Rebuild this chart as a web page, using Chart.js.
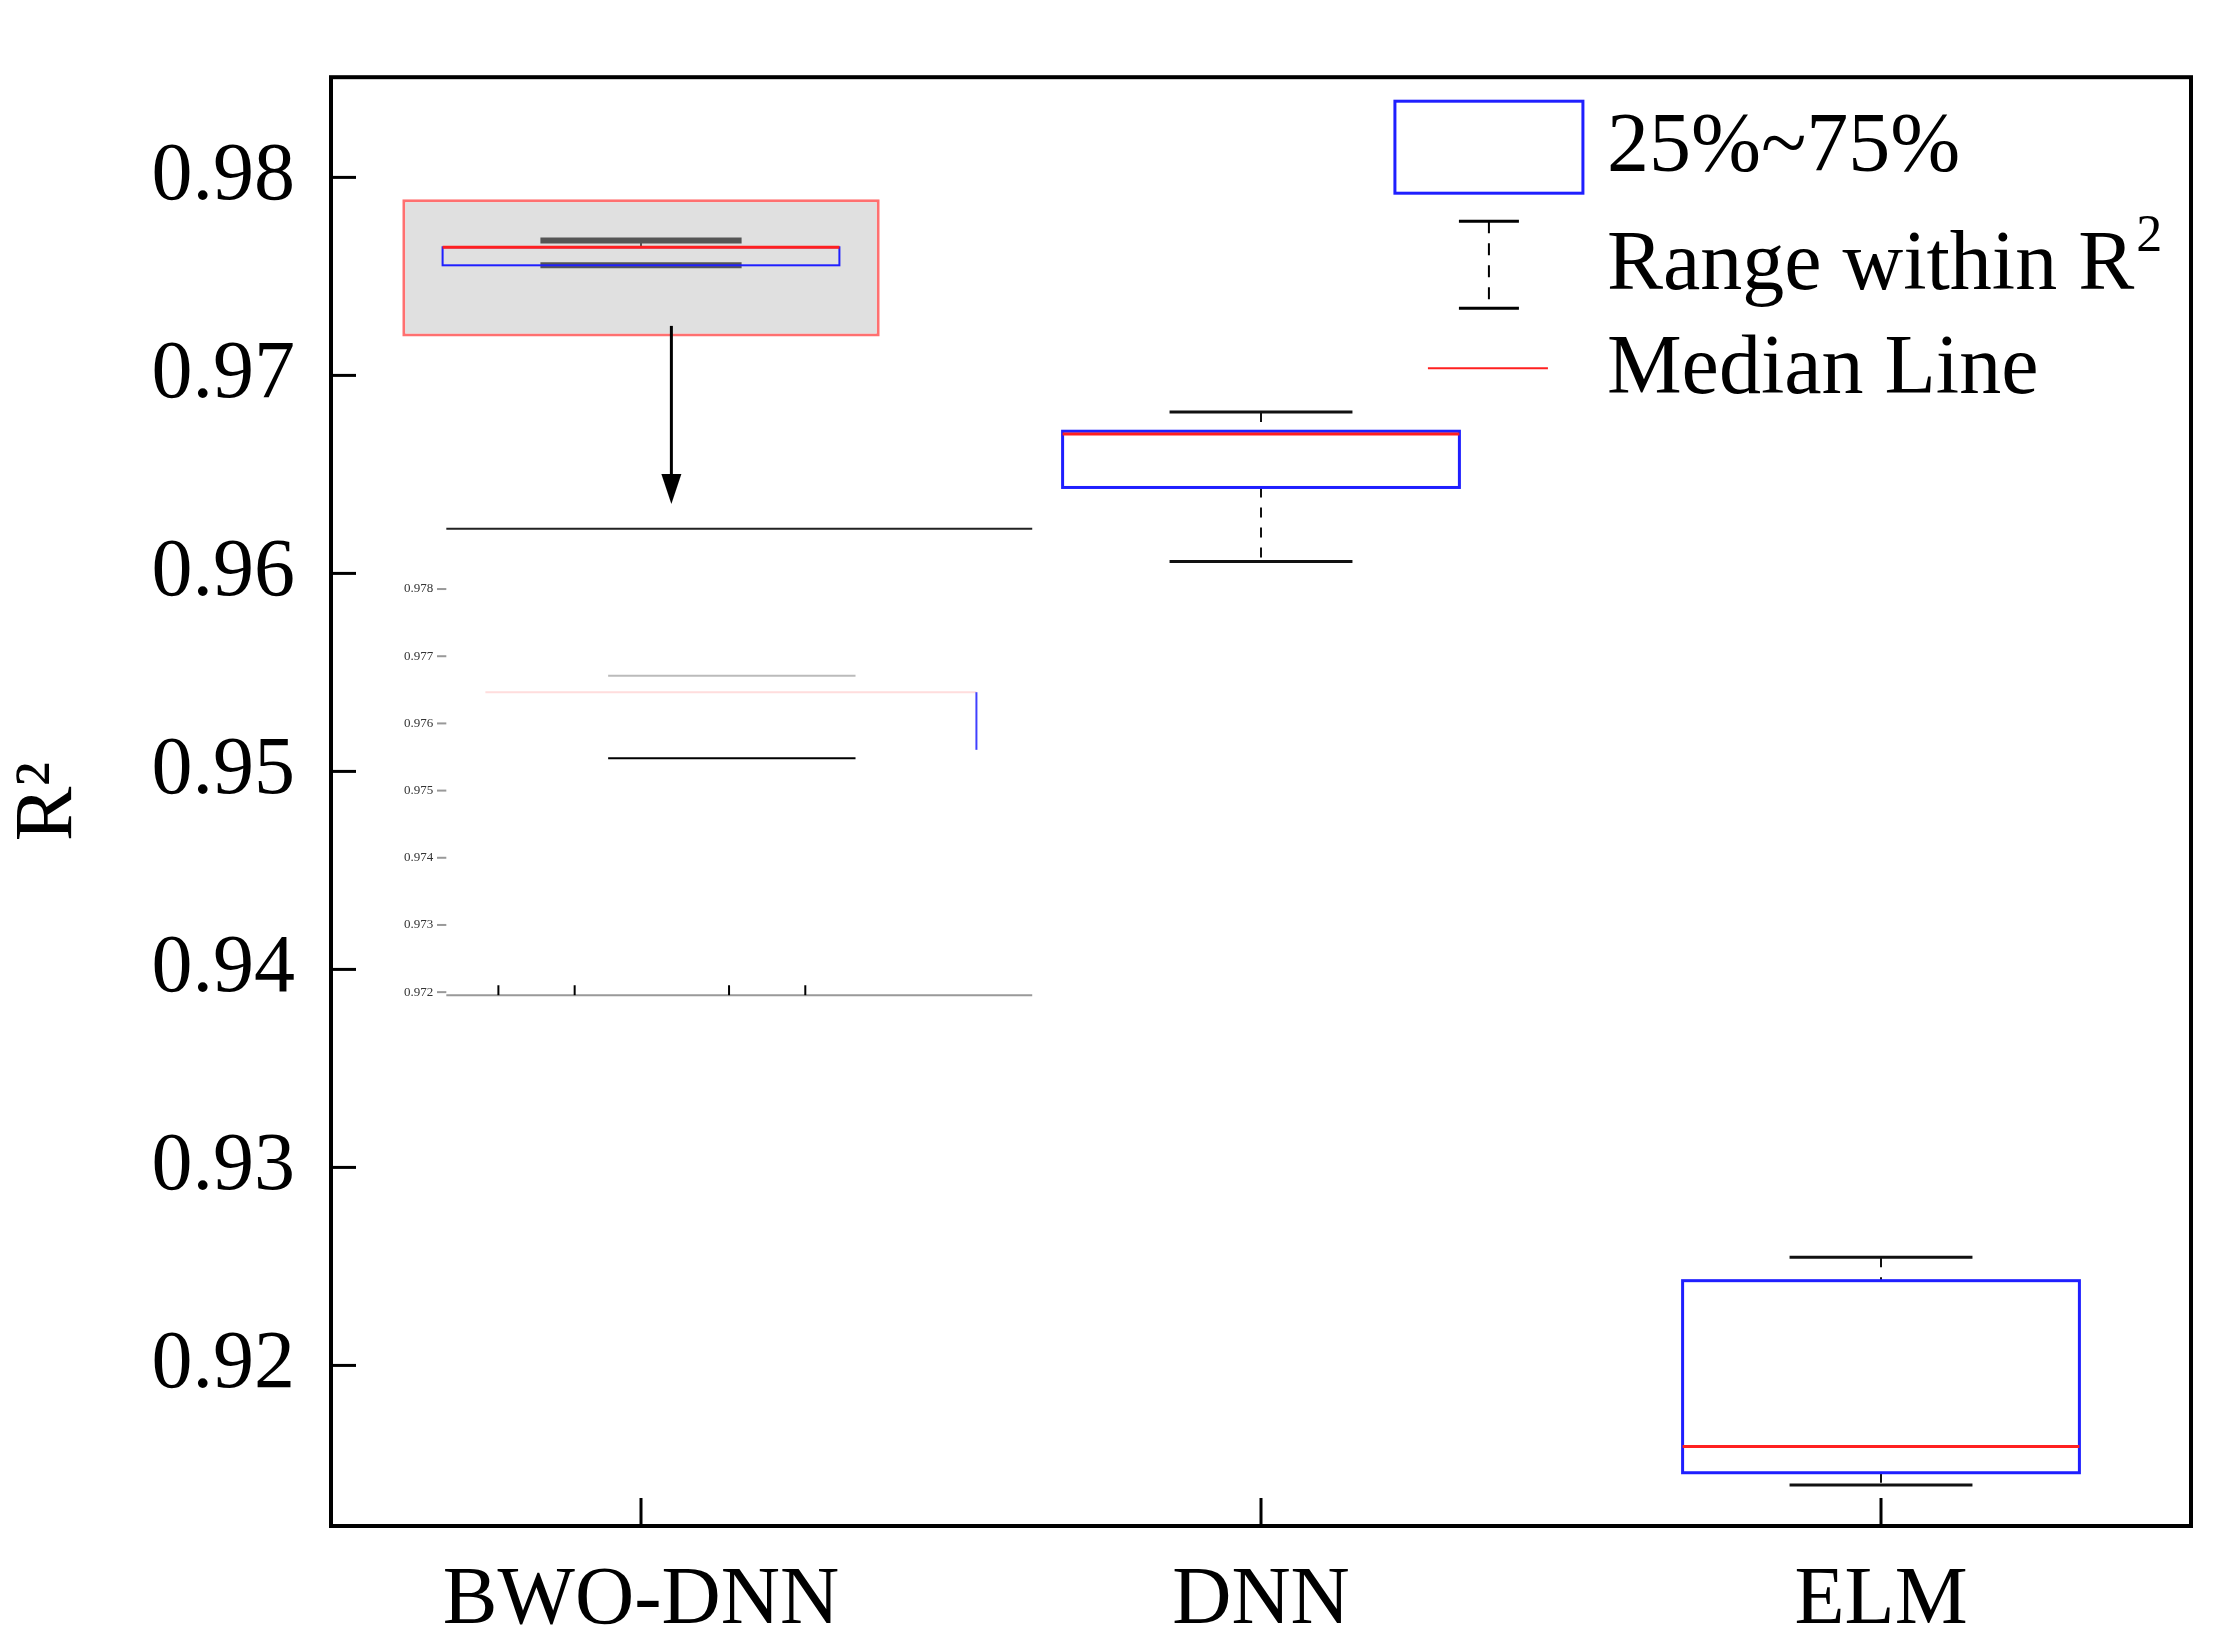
<!DOCTYPE html>
<html>
<head>
<meta charset="utf-8">
<script src="https://cdn.jsdelivr.net/npm/chart.js@4/dist/chart.umd.min.js"></script>
<style>
  body { margin: 0; background: #fff; }
  #wrap { width: 2225px; height: 1650px; }
</style>
</head>
<body>
<div id="wrap"><canvas id="myChart"></canvas></div>
<script>
const labels = ['BWO-DNN', 'DNN', 'ELM'];
const q1 = [0.97556, 0.96434, 0.91458];
const q3 = [0.97647, 0.96718, 0.92428];
const median = [0.97647, 0.96704, 0.91590];
const whiskerLow = [0.97556, 0.96060, 0.91396];
const whiskerHigh = [0.97681, 0.96815, 0.92546];
const zoomBox = [0.97196, 0.97889];
const yTicks = [0.92, 0.93, 0.94, 0.95, 0.96, 0.97, 0.98];
const insetTicks = ['0.978', '0.977', '0.976', '0.975', '0.974', '0.973', '0.972'];

const serif = '"Liberation Serif", "DejaVu Serif", serif';

const boxPlugin = {
    id: 'boxes',
    afterDatasetsDraw(chart) {
        const c = chart.ctx;
        const x = chart.scales.x, y = chart.scales.y;
        const a = chart.chartArea;
        const half = x.width / 3 * 0.64 / 2;
        const cap = x.width / 3 * 0.295 / 2;
        c.save();
        for (let i = 0; i < labels.length; i++) {
            const cx = x.getPixelForValue(i);
            const top = y.getPixelForValue(q3[i]);
            const bot = y.getPixelForValue(q1[i]);
            const col = i == 0 ? '#555' : '#111';
            c.strokeStyle = col;
            c.lineWidth = i == 0 ? 6 : 3;
            // caps
            const cw = i == 0 ? cap * 1.1 : cap;
            [whiskerLow[i], whiskerHigh[i]].forEach(v => {
                c.beginPath();
                c.moveTo(cx - cw, y.getPixelForValue(v));
                c.lineTo(cx + cw, y.getPixelForValue(v));
                c.stroke();
            });
            // whiskers
            c.lineWidth = 2;
            c.setLineDash([10, 10]);
            c.beginPath();
            c.moveTo(cx, y.getPixelForValue(whiskerHigh[i]));
            c.lineTo(cx, top);
            c.moveTo(cx, bot);
            c.lineTo(cx, y.getPixelForValue(whiskerLow[i]));
            c.stroke();
            c.setLineDash([]);
            // box
            c.strokeStyle = '#1f1fff';
            c.lineWidth = i == 0 ? 2 : 3;
            c.strokeRect(cx - half, top, half * 2, bot - top);
            // median
            c.strokeStyle = '#ff2020';
            c.lineWidth = 3;
            c.beginPath();
            c.moveTo(cx - half, y.getPixelForValue(median[i]));
            c.lineTo(cx + half, y.getPixelForValue(median[i]));
            c.stroke();
        }

        // inset (magnified view)
        const w = a.right - a.left;
        const fx = f => a.left + w * f;
        c.strokeStyle = '#000';
        c.lineWidth = 3;
        c.beginPath();
        c.moveTo(fx(0.183), y.getPixelForValue(0.9725));
        c.lineTo(fx(0.183), y.getPixelForValue(0.9643));
        c.stroke();
        c.fillStyle = '#000';
        c.beginPath();
        const ay = y.getPixelForValue(0.9635);
        c.moveTo(fx(0.183), ay);
        c.lineTo(fx(0.183) - 10, ay - 30);
        c.lineTo(fx(0.183) + 10, ay - 30);
        c.fill();
        c.lineWidth = 2;
        c.strokeStyle = '#222';
        c.beginPath();
        c.moveTo(fx(0.062), y.getPixelForValue(0.96226));
        c.lineTo(fx(0.377), y.getPixelForValue(0.96226));
        c.stroke();
        c.strokeStyle = '#999';
        c.beginPath();
        c.moveTo(fx(0.062), y.getPixelForValue(0.9387));
        c.lineTo(fx(0.377), y.getPixelForValue(0.9387));
        c.stroke();
        c.font = '13px ' + serif;
        c.fillStyle = '#333';
        c.textAlign = 'right';
        c.textBaseline = 'middle';
        insetTicks.forEach((t, k) => {
            const ty = y.getPixelForValue(0.95921 - k * 0.003393);
            c.fillText(t, fx(0.055), ty);
            c.beginPath();
            c.moveTo(fx(0.057), ty);
            c.lineTo(fx(0.062), ty);
            c.stroke();
        });
        c.strokeStyle = '#bbb';
        c.beginPath();
        c.moveTo(fx(0.149), y.getPixelForValue(0.95483));
        c.lineTo(fx(0.282), y.getPixelForValue(0.95483));
        c.stroke();
        c.strokeStyle = '#000';
        c.beginPath();
        c.moveTo(fx(0.149), y.getPixelForValue(0.95067));
        c.lineTo(fx(0.282), y.getPixelForValue(0.95067));
        c.stroke();
        c.strokeStyle = '#fdd';
        c.beginPath();
        c.moveTo(fx(0.083), y.getPixelForValue(0.95400));
        c.lineTo(fx(0.347), y.getPixelForValue(0.95400));
        c.stroke();
        c.strokeStyle = '#4040ff';
        c.beginPath();
        c.moveTo(fx(0.347), y.getPixelForValue(0.95400));
        c.lineTo(fx(0.347), y.getPixelForValue(0.95109));
        c.stroke();
        c.strokeStyle = '#000';
        [0.090, 0.131, 0.214, 0.255].forEach(f => {
            c.beginPath();
            c.moveTo(fx(f), y.getPixelForValue(0.9387));
            c.lineTo(fx(f), y.getPixelForValue(0.9392));
            c.stroke();
        });

        // inward ticks
        c.strokeStyle = '#000';
        c.lineWidth = 3;
        yTicks.forEach(v => {
            c.beginPath();
            c.moveTo(a.left, y.getPixelForValue(v));
            c.lineTo(a.left + 25, y.getPixelForValue(v));
            c.stroke();
        });
        labels.forEach((l, i) => {
            c.beginPath();
            c.moveTo(x.getPixelForValue(i), a.bottom);
            c.lineTo(x.getPixelForValue(i), a.bottom - 28);
            c.stroke();
        });
        c.lineWidth = 4;
        c.strokeRect(a.left, a.top, w, a.bottom - a.top);

        // legend
        const lx = fx(0.572);
        c.strokeStyle = '#1f1fff';
        c.lineWidth = 3;
        c.strokeRect(lx, a.top + 24, 188, 92);
        c.strokeStyle = '#000';
        const mx = lx + 94;
        c.beginPath();
        c.moveTo(mx - 30, a.top + 144); c.lineTo(mx + 30, a.top + 144);
        c.moveTo(mx - 30, a.top + 231); c.lineTo(mx + 30, a.top + 231);
        c.stroke();
        c.setLineDash([12, 10]);
        c.lineWidth = 2;
        c.beginPath();
        c.moveTo(mx, a.top + 144); c.lineTo(mx, a.top + 231);
        c.stroke();
        c.setLineDash([]);
        c.strokeStyle = '#ff2020';
        c.beginPath();
        c.moveTo(lx + 33, a.top + 291); c.lineTo(lx + 153, a.top + 291);
        c.stroke();
        c.fillStyle = '#000';
        c.textAlign = 'left';
        c.textBaseline = 'middle';
        c.font = '84px ' + serif;
        const tx = lx + 212;
        c.fillText('25%~75%', tx, a.top + 72);
        c.fillText('Range within R', tx, a.top + 190);
        const rw = c.measureText('Range within R').width;
        c.font = '52px ' + serif;
        c.fillText('2', tx + rw + 2, a.top + 160);
        c.font = '84px ' + serif;
        c.fillText('Median Line', tx, a.top + 294);
        c.restore();
    }
};

const ctx = document.getElementById('myChart');
new Chart(ctx, {
    type: 'bar',
    data: {
        labels: labels,
        datasets: [{
            label: 'zoom',
            data: [zoomBox, null, null],
            backgroundColor: '#e0e0e0',
            borderColor: '#ff7070',
            borderWidth: 3,
            borderSkipped: false,
            barPercentage: 0.77,
            categoryPercentage: 1,
        }],
    },
    options: {
        responsive: true,
        maintainAspectRatio: false,
        animation: false,
        layout: { padding: { top: -37, right: 34, bottom: 10 } },
        plugins: { legend: { display: false }, tooltip: { enabled: false } },
        scales: {
            x: {
                grid: { display: false },
                border: { display: false },
                ticks: { color: '#000', font: { family: serif, size: 82 }, padding: 18 },
                afterFit: s => { s.height = 114; },
            },
            y: {
                min: 0.91189,
                max: 0.98506,
                grid: { display: false },
                border: { display: false },
                afterBuildTicks: s => { s.ticks = yTicks.map(v => ({ value: v })); },
                ticks: { color: '#000', font: { family: serif, size: 82 }, padding: 28, callback: v => v.toFixed(2) },
                title: { display: true, text: 'R²', color: '#000', font: { family: serif, size: 82 }, padding: { top: 0, bottom: 0 } },
                afterFit: s => { s.width = 331; },
            },
        },
    },
    plugins: [boxPlugin],
});
</script>
</body>
</html>
